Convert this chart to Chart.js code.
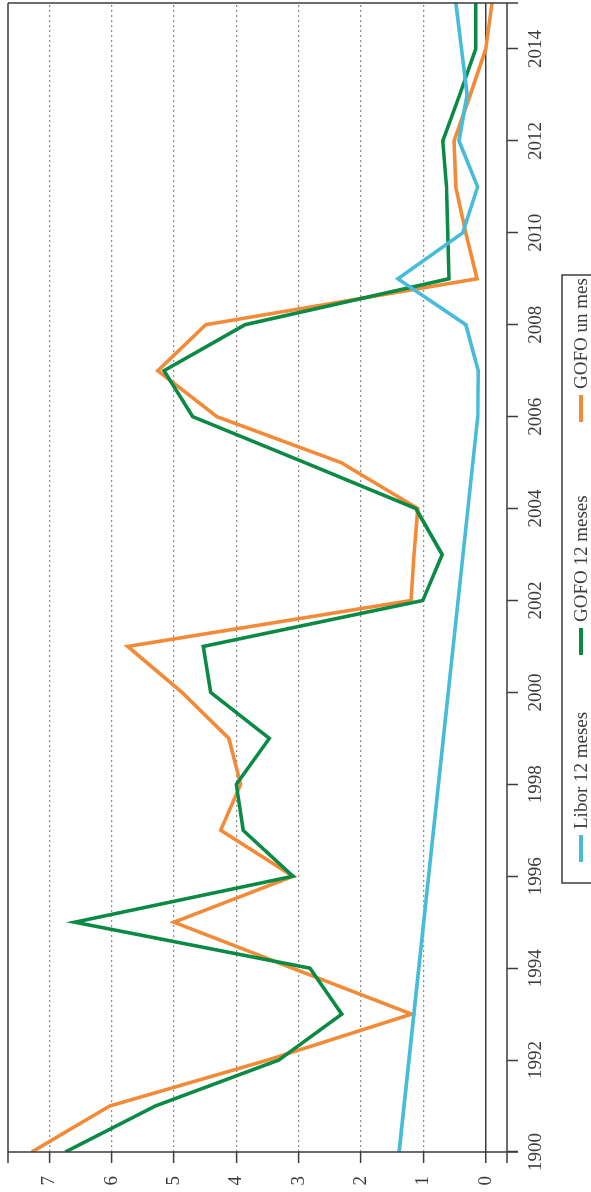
<!DOCTYPE html>
<html>
<head>
<meta charset="utf-8">
<script src="https://cdn.jsdelivr.net/npm/chart.js@4.4.0/dist/chart.umd.min.js"></script>
<style>
html, body { margin: 0; padding: 0; background: #fff; overflow: hidden; }
#wrap {
  position: absolute; left: 0; top: 0;
  width: 1192px; height: 591px;
  transform-origin: 0 0;
  transform: translate(0, 1192px) rotate(-90deg);
}
</style>
</head>
<body>
<div id="wrap"><canvas id="chart" width="1192" height="591"></canvas></div>
<script>
// data (percent)
const years = [1990, 1991, 1992, 1993, 1994, 1995, 1996, 1997, 1998, 1999, 2000, 2001, 2002,
               2003, 2004, 2005, 2006, 2007, 2008, 2009, 2010, 2011, 2012, 2013, 2014, 2015];
const gofoUnMes = [7.28, 6.03, 3.5, 1.19, 3.1, 5.0, 3.09, 4.25, 3.93, 4.12, 4.87, 5.74, 1.2,
                   1.15, 1.09, 2.32, 4.31, 5.26, 4.49, 0.14, 0.32, 0.48, 0.51, 0.25, 0.0, -0.1];
const gofo12Meses = [6.74, 5.3, 3.32, 2.31, 2.82, 6.59, 3.09, 3.89, 4.0, 3.47, 4.41, 4.53, 1.01,
                     0.7, 1.12, 2.9, 4.7, 5.16, 3.86, 0.59, 0.61, 0.63, 0.69, 0.42, 0.16, 0.16];
const liborYears = [1990, 2006, 2007, 2008, 2009, 2010, 2011, 2012, 2013, 2014, 2015];
const libor12Meses = [1.39, 0.13, 0.12, 0.32, 1.41, 0.37, 0.13, 0.43, 0.3, 0.39, 0.48];

const yearTicks = [1990, 1992, 1994, 1996, 1998, 2000, 2002, 2004, 2006, 2008, 2010, 2012, 2014];
const yearLabels = ['1900', '1992', '1994', '1996', '1998', '2000', '2002', '2004', '2006',
                    '2008', '2010', '2012', '2014'];
const valueTicks = [0, 1, 2, 3, 4, 5, 6, 7];

const seriesNames = ['Libor 12 meses', 'GOFO 12 meses', 'GOFO un mes'];
const seriesColors = ['#46bcd8', '#0a8a45', '#f28a38'];

const axisColor = '#3c3c3c';
const gridColor = '#8c8c8c';
const fontFamily = '"Liberation Serif", "DejaVu Serif", serif';

const toPoints = (xs, ys) => xs.map((x, i) => ({ x: x, y: ys[i] }));

// box, axis lines and their little overhangs
const framePlugin = {
  id: 'frame',
  afterDraw(chart) {
    const { ctx, chartArea: a } = chart;
    const ext = 11;
    ctx.save();
    ctx.strokeStyle = axisColor;
    ctx.lineWidth = 1.5;
    ctx.beginPath();
    ctx.moveTo(a.left - ext, a.top); ctx.lineTo(a.right, a.top);
    ctx.moveTo(a.left - ext, a.bottom); ctx.lineTo(a.right, a.bottom);
    ctx.moveTo(a.left, a.top); ctx.lineTo(a.left, a.bottom + ext);
    ctx.moveTo(a.right, a.top); ctx.lineTo(a.right, a.bottom + ext);
    ctx.stroke();
    ctx.restore();
  }
};

// legend in an open box under the axis
const legendPlugin = {
  id: 'boxLegend',
  afterDraw(chart) {
    const ctx = chart.ctx;
    const starts = [330, 537, 770];
    ctx.save();
    ctx.strokeStyle = axisColor;
    ctx.lineWidth = 1.5;
    ctx.strokeRect(309, 562, 608, 60);
    ctx.font = '19px ' + fontFamily;
    ctx.textBaseline = 'alphabetic';
    chart.data.datasets.forEach((ds, i) => {
      ctx.fillStyle = ds.borderColor;
      ctx.fillRect(starts[i], 579, 27, 4);
      ctx.fillStyle = axisColor;
      ctx.fillText(ds.label, starts[i] + 33, 587);
    });
    ctx.restore();
  }
};

const ctx = document.getElementById('chart').getContext('2d');
const chart = new Chart(ctx, {
  type: 'line',
  data: {
    datasets: [
      { label: seriesNames[0], data: toPoints(liborYears, libor12Meses) },
      { label: seriesNames[1], data: toPoints(years, gofo12Meses) },
      { label: seriesNames[2], data: toPoints(years, gofoUnMes) }
    ].map((ds, i) => Object.assign(ds, {
      borderColor: seriesColors[i],
      backgroundColor: seriesColors[i],
      borderWidth: 3.6,
      pointRadius: 0,
      tension: 0,
      borderJoinStyle: 'miter',
      fill: false
    }))
  },
  options: {
    responsive: false,
    animation: false,
    layout: { padding: { top: 8, right: 3, left: 0, bottom: 0 } },
    plugins: { legend: { display: false }, tooltip: { enabled: false } },
    scales: {
      x: {
        type: 'linear',
        min: 1990,
        max: 2015,
        afterBuildTicks: s => { s.ticks = yearTicks.map(v => ({ value: v })); },
        afterFit: s => { s.height = 84; s.paddingLeft = 0; s.paddingRight = 0; },
        ticks: {
          autoSkip: false,
          maxRotation: 0,
          padding: 7,
          color: axisColor,
          font: { family: fontFamily, size: 19 },
          callback: (v, i) => yearLabels[i]
        },
        grid: { drawOnChartArea: false, tickLength: 11, tickColor: axisColor, tickWidth: 1.5 },
        border: { display: false }
      },
      y: {
        min: -0.34,
        max: 7.66,
        afterBuildTicks: s => { s.ticks = valueTicks.map(v => ({ value: v })); },
        afterFit: s => { s.width = 40; s.paddingTop = 0; s.paddingBottom = 0; },
        ticks: {
          padding: 13,
          color: axisColor,
          font: { family: fontFamily, size: 19 }
        },
        grid: {
          tickLength: 11,
          tickColor: axisColor,
          tickWidth: 1.5,
          tickBorderDash: [],
          color: c => (c.tick && c.tick.value === 0) ? axisColor : gridColor,
          lineWidth: c => (c.tick && c.tick.value === 0) ? 1.5 : 1.2
        },
        border: {
          display: false,
          dash: c => (c.tick && c.tick.value !== 0) ? [2, 3] : []
        }
      }
    }
  },
  plugins: [framePlugin, legendPlugin]
});
</script>
</body>
</html>
